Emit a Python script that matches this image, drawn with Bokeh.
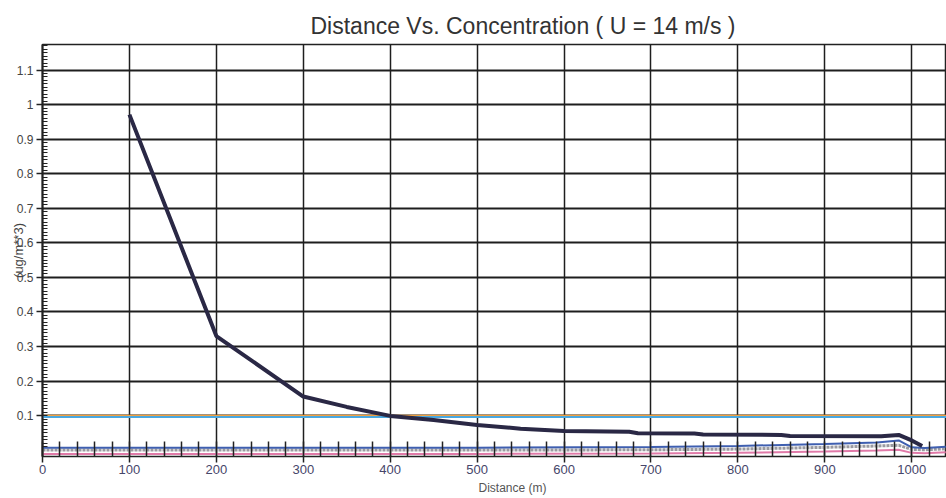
from bokeh.plotting import figure
from bokeh.models import FixedTicker, CustomJSTickFormatter, Title
from bokeh.embed import file_html
from bokeh.resources import INLINE

# ---- data ----
dist = [100, 200, 300, 350, 400, 450, 500, 550, 600, 675, 685, 750, 760, 850, 860, 965, 985, 1000, 1012]
conc = [0.971, 0.330, 0.155, 0.125, 0.099, 0.087, 0.073, 0.062, 0.055, 0.053, 0.049, 0.048, 0.045,
        0.044, 0.041, 0.040, 0.044, 0.028, 0.012]

limit_x = [0, 1040]
limit_orange = [0.100, 0.100]
limit_blue = [0.096, 0.096]

low_x = [0, 500, 700, 800, 900, 960, 985, 1000, 1015, 1040]
low_blue = [0.007, 0.007, 0.009, 0.012, 0.018, 0.022, 0.028, 0.008, 0.006, 0.010]
low_gray = [0.000, 0.000, 0.001, 0.003, 0.008, 0.012, 0.014, 0.002, 0.001, 0.004]
low_pink = [-0.011, -0.011, -0.010, -0.008, -0.004, -0.001, 0.001, -0.008, -0.009, -0.006]

x_ticks = [0, 100, 200, 300, 400, 500, 600, 700, 800, 900, 1000]
x_minor = [v for v in range(0, 1041, 20)]
y_ticks = [0.1, 0.2, 0.3, 0.4, 0.5, 0.6, 0.7, 0.8, 0.9, 1.0, 1.1]
y_minor = [round(0.01 * i, 2) for i in range(1, 118)]

title_text = "Distance Vs. Concentration ( U = 14 m/s )"
x_label = "Distance (m)"
y_label = "(ug/m**3)"

FONT = "Liberation Sans"

p = figure(width=946, height=498, x_range=(0, 1040), y_range=(-0.0185, 1.174),
           output_backend="svg", toolbar_location=None,
           min_border_left=42, min_border_right=0, min_border_top=44, min_border_bottom=42,
           title=title_text)
p.background_fill_color = "white"
p.border_fill_color = "white"
p.outline_line_color = "#222222"
p.outline_line_width = 1.5

p.title.text_font = FONT
p.title.text_font_size = "23px"
p.title.text_font_style = "normal"
p.title.text_color = "#333333"
p.title.align = "left"
p.title.offset = 268
p.title.standoff = 11

# x axis
xa = p.xaxis[0]
xa.ticker = FixedTicker(ticks=x_ticks, minor_ticks=x_minor)
xa.axis_line_color = None
xa.major_tick_out = 6
xa.major_tick_in = 0
xa.major_tick_line_color = "#222222"
xa.major_tick_line_width = 1.5
xa.minor_tick_in = 15
xa.minor_tick_out = 0
xa.minor_tick_line_color = "#222222"
xa.minor_tick_line_width = 1.5
xa.major_label_text_font = FONT
xa.major_label_text_font_size = "13px"
xa.major_label_text_color = "#46466a"
xa.major_label_standoff = 2

# y axis
ya = p.yaxis[0]
ya.ticker = FixedTicker(ticks=y_ticks, minor_ticks=y_minor)
ya.formatter = CustomJSTickFormatter(code="return (Math.round(tick*10)/10).toString();")
ya.axis_line_color = "#222222"
ya.axis_line_width = 2
ya.major_tick_out = 6
ya.major_tick_in = 0
ya.major_tick_line_color = "#222222"
ya.major_tick_line_width = 1.5
ya.minor_tick_in = 5
ya.minor_tick_out = 0
ya.minor_tick_line_color = "#222222"
ya.minor_tick_line_width = 1.2
ya.major_label_text_font = FONT
ya.major_label_text_font_size = "12px"
ya.major_label_text_color = "#444444"
ya.major_label_standoff = 3
ya.axis_label = y_label
ya.axis_label_text_font = FONT
ya.axis_label_text_font_size = "13px"
ya.axis_label_text_font_style = "normal"
ya.axis_label_text_color = "#444444"
ya.axis_label_standoff = -12

p.xgrid.grid_line_color = "#1e1e1e"
p.xgrid.grid_line_width = 1.5
p.ygrid.grid_line_color = "#1e1e1e"
p.ygrid.grid_line_width = 2

# series near zero
p.line(low_x, low_pink, line_color="#e07aa8", line_width=2)
p.line(low_x, low_gray, line_color="#9a9aa0", line_width=3, line_dash="3 1")
p.line(low_x, low_blue, line_color="#3f5fb0", line_width=2)

# 0.1 lines
p.line(limit_x, limit_orange, line_color="#f0a040", line_width=1.5)
p.line(limit_x, limit_blue, line_color="#4aa8e0", line_width=2)

# main concentration curve
p.line(dist, conc, line_color="#2a2845", line_width=4)

xt = Title(text=x_label, align="left", offset=436, standoff=5,
           text_font=FONT, text_font_size="12px", text_font_style="normal",
           text_color="#555555")
p.add_layout(xt, "below")

open("out.html", "w").write(file_html(p, INLINE))
